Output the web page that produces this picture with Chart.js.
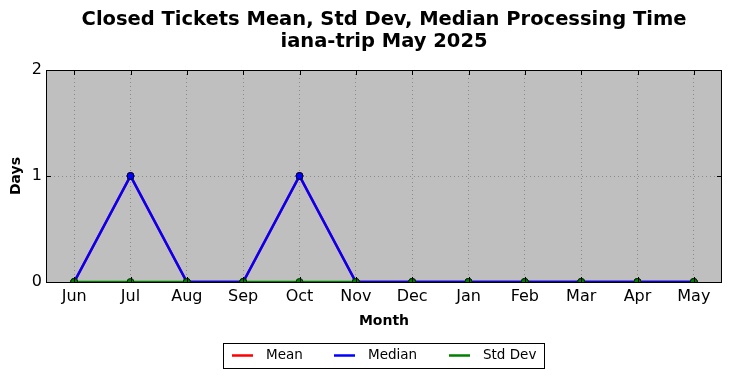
<!DOCTYPE html>
<html><head><meta charset="utf-8">
<script src="https://cdn.jsdelivr.net/npm/chart.js@4/dist/chart.umd.min.js"></script>
<style>html,body{margin:0;padding:0;background:#fff}#wrap{width:731px;height:378px}</style>
</head><body><div id="wrap"><canvas id="c" width="731" height="378"></canvas></div>
<script>
const titleLines = ["Closed Tickets Mean, Std Dev, Median Processing Time", "iana-trip May 2025"];
const months = ["Jun","Jul","Aug","Sep","Oct","Nov","Dec","Jan","Feb","Mar","Apr","May"];
const meanVals = [0,1,0,0,1,0,0,0,0,0,0,0];
const medianVals = [0,1,0,0,1,0,0,0,0,0,0,0];
const stdVals = [0,0,0,0,0,0,0,0,0,0,0,0];
const yTicks = [0,1,2];
const xTitle = "Month";
const yTitle = "Days";

const FONT = "'DejaVu Sans', sans-serif";

const bgPlugin = {
  id: 'bg',
  beforeDraw(chart) {
    const {ctx, chartArea: a} = chart;
    ctx.save();
    ctx.fillStyle = '#fff';
    ctx.fillRect(0, 0, chart.width, chart.height);
    ctx.fillStyle = '#bfbfbf';
    ctx.fillRect(a.left, a.top, a.right - a.left, a.bottom - a.top);
    ctx.restore();
  },
  afterDraw(chart) {
    const {ctx, chartArea: a} = chart;
    ctx.save();
    // title centered over the plot area
    ctx.fillStyle = '#000';
    ctx.font = "bold 19.5px " + FONT;
    ctx.textAlign = 'center';
    ctx.textBaseline = 'middle';
    const cx = (a.left + a.right) / 2;
    titleLines.forEach((t, i) => ctx.fillText(t, cx, 19.5 + i * 22));

    ctx.strokeStyle = '#000';
    ctx.lineWidth = 1;
    const L = 5;
    ctx.beginPath();
    const xs = chart.scales.x, ys = chart.scales.y;
    xs.ticks.forEach((t, i) => {
      const px = Math.round(xs.getPixelForTick(i)) + 0.5;
      ctx.moveTo(px, a.top); ctx.lineTo(px, a.top + L);
      ctx.moveTo(px, a.bottom); ctx.lineTo(px, a.bottom - L);
    });
    ys.ticks.forEach((t, i) => {
      const py = Math.round(ys.getPixelForTick(i)) + 0.5;
      ctx.moveTo(a.left, py); ctx.lineTo(a.left + L, py);
      ctx.moveTo(a.right, py); ctx.lineTo(a.right - L, py);
    });
    ctx.stroke();
    ctx.strokeRect(Math.round(a.left) + 0.5, Math.round(a.top) + 0.5, Math.round(a.right - a.left) - 1, Math.round(a.bottom - a.top));
    // legend
    const items = chart.data.datasets.filter(d => d.inLegend);
    const boxL = 223.5, boxT = 343.5, boxW = 321, boxH = 25;
    ctx.fillStyle = '#fff';
    ctx.fillRect(boxL, boxT, boxW, boxH);
    ctx.strokeStyle = '#000';
    ctx.strokeRect(boxL, boxT, boxW, boxH);
    const starts = [232, 334, 449];
    ctx.font = "13.5px " + FONT;
    ctx.textBaseline = 'middle';
    ctx.textAlign = 'left';
    items.forEach((d, i) => {
      const x0 = starts[i], y0 = 355.5;
      ctx.strokeStyle = d.borderColor;
      ctx.lineWidth = 2.5;
      ctx.beginPath(); ctx.moveTo(x0, y0); ctx.lineTo(x0 + 21, y0); ctx.stroke();
      ctx.fillStyle = '#000';
      ctx.fillText(d.label, x0 + 34, y0);
    });
    ctx.restore();
  }
};

new Chart(document.getElementById('c'), {
  type: 'line',
  data: {
    labels: months,
    datasets: [
      {label: 'Mean', inLegend: true, data: meanVals, borderColor: '#ff0000', backgroundColor: '#ff0000', pointBorderColor: '#550000', borderWidth: 2.5, pointRadius: 3.5, pointBorderWidth: 1, order: 3, clip: 0, tension: 0},
      {label: 'Median', inLegend: true, data: medianVals, borderColor: '#0000ff', backgroundColor: '#0000ff', pointBorderColor: '#000033', borderWidth: 2.5, pointRadius: 3.5, pointBorderWidth: 1, order: 2, clip: 0, tension: 0},
      {label: 'Std Dev', inLegend: true, data: stdVals, borderColor: '#008000', backgroundColor: '#008000', pointRadius: 0, borderWidth: 2.5, order: 4, clip: 0, tension: 0},
      {label: 'Std Dev markers', inLegend: false, data: stdVals, showLine: false, borderColor: '#003300', backgroundColor: '#008000', pointRadius: 3.5, pointBorderWidth: 1, order: 1, clip: 0}
    ]
  },
  options: {
    responsive: false,
    animation: false,
    devicePixelRatio: 1,
    layout: {padding: {left: 0, right: 9, top: 70, bottom: 46}},
    plugins: {
      legend: {display: false},
      tooltip: {enabled: false},
      title: {display: false}
    },
    scales: {
      x: {
        offset: true,
        grid: {display: true, color: '#8a8a8a', drawTicks: false, offset: false},
        border: {display: false, dash: [1, 3]},
        ticks: {color: '#000', font: {family: FONT, size: 16}, padding: 5, maxRotation: 0, autoSkip: false},
        title: {display: true, text: xTitle, color: '#000', font: {family: FONT, size: 14, weight: 'bold'}, padding: {top: 0, bottom: 2}},
        afterFit(s) { s.height = 50; }
      },
      y: {
        min: 0, max: 2,
        afterBuildTicks(s) { s.ticks = yTicks.map(v => ({value: v})); },
        grid: {display: true, color: '#8a8a8a', drawTicks: false},
        border: {display: false, dash: [1, 3]},
        ticks: {color: '#000', font: {family: FONT, size: 16}, padding: 4},
        title: {display: true, text: yTitle, color: '#000', font: {family: FONT, size: 14, weight: 'bold'}, padding: {top: 8, bottom: 0}},
        afterFit(s) { s.width = 46; }
      }
    }
  },
  plugins: [bgPlugin]
});
</script>
</body></html>
